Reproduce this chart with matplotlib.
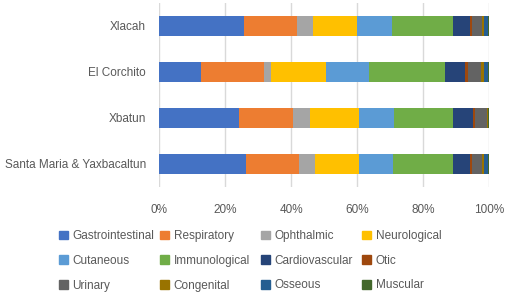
import matplotlib.pyplot as plt
import numpy as np
from matplotlib.patches import Patch

plt.rcParams['font.family'] = ['Liberation Sans', 'DejaVu Sans']

# Data (percent of cases per category)
sites = ["Xlacah", "El Corchito", "Xbatun", "Santa Maria & Yaxbacaltun"]
categories = ["Gastrointestinal", "Respiratory", "Ophthalmic", "Neurological",
              "Cutaneous", "Immunological", "Cardiovascular", "Otic",
              "Urinary", "Congenital", "Osseous", "Muscular"]
values = {
    "Xlacah":                    [25.7, 16.1, 4.8, 13.3, 10.7, 18.4, 5.2, 0.6, 3.0, 0.5, 1.3, 0.4],
    "El Corchito":               [12.8, 19.1, 2.1, 16.6, 13.1, 22.8, 6.2, 0.7, 4.2, 0.7, 1.3, 0.4],
    "Xbatun":                    [24.3, 16.3, 5.0, 14.9, 10.6, 17.8, 6.3, 0.4, 3.6, 0.3, 0.1, 0.4],
    "Santa Maria & Yaxbacaltun": [26.3, 16.1, 4.8, 13.4, 10.3, 18.0, 5.3, 0.6, 2.9, 0.6, 1.3, 0.4],
}
colors = ["#4472C4", "#ED7D31", "#A5A5A5", "#FFC000", "#5B9BD5", "#70AD47",
          "#264478", "#9E480E", "#636363", "#997300", "#255E91", "#43682B"]

data = np.array([values[s] for s in sites])
data = data / data.sum(axis=1, keepdims=True) * 100

fig = plt.figure(figsize=(5.05, 2.93), dpi=100)
ax = fig.add_axes([159 / 505, 1 - 187 / 293, 330.3 / 505, 184 / 293])

y = np.arange(len(sites))
left = np.zeros(len(sites))
for i, cat in enumerate(categories):
    ax.barh(y, data[:, i], left=left, height=0.42, color=colors[i], label=cat, zorder=2)
    left += data[:, i]

ax.set_xlim(0, 100)
ax.set_ylim(len(sites) - 0.5, -0.5)
ax.set_yticks(y)
ax.set_yticklabels(sites)
ax.set_xticks(np.arange(0, 101, 20))
ax.set_xticklabels([f"{v}%" for v in range(0, 101, 20)])
ax.grid(axis='x', color='#D9D9D9', linewidth=1, zorder=0)
for sp in ax.spines.values():
    sp.set_visible(False)
ax.tick_params(axis='both', length=0, labelsize=8.5, colors='#595959')
ax.tick_params(axis='y', pad=9.5)
ax.tick_params(axis='x', pad=12)

# legend: 4 equally spaced columns, filled row by row
col_x = [59, 160, 261, 362]
for col in range(4):
    idx = [r * 4 + col for r in range(3)]
    fig.legend([Patch(color=colors[k]) for k in idx], [categories[k] for k in idx],
               loc='upper left', bbox_to_anchor=(col_x[col] / 505, 1 - 230 / 293),
               frameon=False, fontsize=8.5, labelcolor='#595959',
               handlelength=0.75, handleheight=0.75, handletextpad=0.4,
               labelspacing=1.08, borderaxespad=0, borderpad=0)

fig.savefig("out.png", dpi=100)
